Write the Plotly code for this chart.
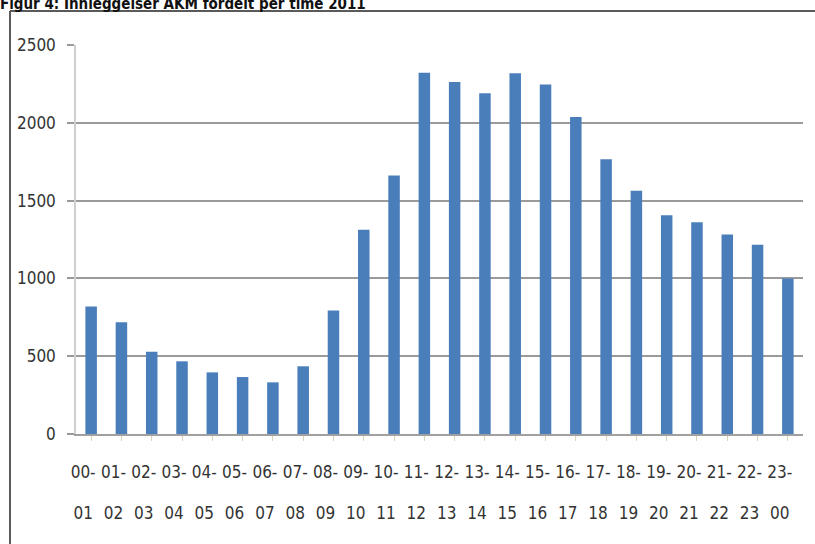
import plotly.graph_objects as go

# Hospital admissions (AKM) per hour of day, 2011
hour_from = ["00", "01", "02", "03", "04", "05", "06", "07", "08", "09", "10", "11",
             "12", "13", "14", "15", "16", "17", "18", "19", "20", "21", "22", "23"]
hour_to = ["01", "02", "03", "04", "05", "06", "07", "08", "09", "10", "11", "12",
           "13", "14", "15", "16", "17", "18", "19", "20", "21", "22", "23", "00"]
admissions = [820, 718, 529, 467, 396, 366, 332, 435, 793, 1312, 1661, 2321,
              2263, 2190, 2319, 2246, 2038, 1766, 1564, 1406, 1361, 1282, 1217, 1000]
y_ticks = [0, 500, 1000, 1500, 2000, 2500]

title_text = "Figur 4: Innleggelser AKM fordelt per time 2011"

NARROW = "DejaVu Sans Condensed, Liberation Sans Narrow, sans-serif"
W, H = 815, 544
ML, MR, MT, MB = 76, 12, 45, 110
plot_w, plot_h = W - ML - MR, H - MT - MB

idx = list(range(len(hour_from)))
row1 = [h + "-" for h in hour_from]

fig = go.Figure()
fig.add_trace(go.Bar(
    x=idx, y=admissions,
    marker=dict(color="#4a7ebb", line=dict(width=0)),
    width=0.38,
    hoverinfo="x+y",
))

# frame around the chart (top and left edges)
def px_to_paper_x(px):
    return (px - ML) / plot_w

def px_to_paper_y(py):
    return (H - MB - py) / plot_h

frame_x0, frame_y0 = px_to_paper_x(10), px_to_paper_y(11)
fig.add_shape(type="line", xref="paper", yref="paper",
              x0=frame_x0, x1=px_to_paper_x(W + 5), y0=frame_y0, y1=frame_y0,
              line=dict(color="#5a5a5a", width=2))
fig.add_shape(type="line", xref="paper", yref="paper",
              x0=frame_x0, x1=frame_x0, y0=frame_y0, y1=px_to_paper_y(H + 5),
              line=dict(color="#5a5a5a", width=2))

tick_font = dict(family=NARROW, size=17, color="#333333")

fig.update_layout(
    width=W, height=H,
    margin=dict(l=ML, r=MR, t=MT, b=MB, pad=0),
    paper_bgcolor="white", plot_bgcolor="white",
    showlegend=False,
    bargap=0.62,
    title=dict(
        text="<b>" + title_text + "</b>",
        font=dict(family=NARROW, size=15, color="#111111"),
        x=0, xanchor="left", xref="container",
        y=1 - 9 / H, yanchor="bottom", yref="container",
        pad=dict(l=0, t=0, b=0),
    ),
    xaxis=dict(
        range=[-0.5, len(idx) - 0.5],
        tickvals=idx, ticktext=row1, tickangle=0,
        ticks="outside", ticklen=5, tickcolor="#d8d4b8", tickwidth=1,
        showline=True, linecolor="#a0a0a0", linewidth=1.5,
        showgrid=False, zeroline=False,
        tickfont=tick_font,
        ticklabelstandoff=17, ticklabelshift=-8,
        fixedrange=True,
    ),
    xaxis2=dict(
        overlaying="x", anchor="y", side="bottom",
        range=[-0.5, len(idx) - 0.5],
        tickvals=idx, ticktext=hour_to, tickangle=0,
        ticks="", showline=False, showgrid=False, zeroline=False,
        tickfont=tick_font,
        ticklabelstandoff=67, ticklabelshift=-8,
        fixedrange=True,
    ),
    yaxis=dict(
        range=[0, 2500],
        tickvals=y_ticks,
        ticks="outside", ticklen=7, tickcolor="#9a9a9a", tickwidth=1.5,
        showline=True, linecolor="#cfcfcf", linewidth=1.5,
        showgrid=True, gridcolor="#9a9a9a", gridwidth=1.5,
        zeroline=False,
        tickfont=tick_font,
        ticklabelstandoff=8,
        fixedrange=True,
    ),
)

# invisible carrier so the second x axis is drawn
fig.add_trace(go.Scatter(x=idx, y=[0] * len(idx), xaxis="x2", mode="markers",
                         marker=dict(opacity=0), hoverinfo="skip"))

fig.write_html("out.html")
